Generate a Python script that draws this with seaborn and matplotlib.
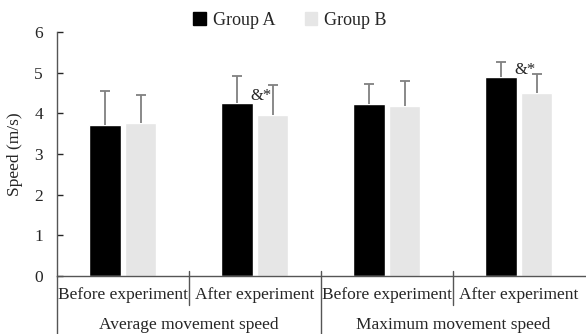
import pandas as pd
import seaborn as sns
import matplotlib.pyplot as plt

# --- data ---
phases = ["Before experiment", "After experiment", "Before experiment", "After experiment"]
metrics = ["Average movement speed", "Maximum movement speed"]
groups = ["Group A", "Group B"]
group_a_mean = [3.72, 4.26, 4.23, 4.90]
group_b_mean = [3.75, 3.97, 4.19, 4.50]
group_a_err = [0.82, 0.66, 0.50, 0.36]
group_b_err = [0.70, 0.73, 0.60, 0.47]
marks = ["", "&*", "", "&*"]

colors = {"Group A": "#000000", "Group B": "#e6e6e6"}

keys = [f"{i}" for i in range(len(phases))]
df = pd.DataFrame({
    "slot": keys * 2,
    "group": ["Group A"] * 4 + ["Group B"] * 4,
    "speed": group_a_mean + group_b_mean,
    "err": group_a_err + group_b_err,
})

sns.set_theme(style="white")
plt.rcParams["font.family"] = ["Liberation Serif", "DejaVu Serif"]

fig = plt.figure(figsize=(5.86, 3.34), dpi=100)
ax = fig.add_axes([0.097, 0.174, 0.901, 0.730])

sns.barplot(data=df, x="slot", y="speed", hue="group", order=keys,
            hue_order=groups, palette=colors, width=0.54, gap=0.12,
            errorbar=None, saturation=1, ax=ax, legend=False)

# one-sided grey error bars on top of each bar (upper cap only)
for cont, g in zip(ax.containers, groups):
    sub = df[df["group"] == g]
    xs = [p.get_x() + p.get_width() / 2 for p in cont.patches]
    eb = ax.errorbar(xs, sub["speed"], yerr=[[0] * len(xs), list(sub["err"])],
                     fmt="none", ecolor="#808080", elinewidth=1.3, capsize=3.5,
                     capthick=1.3)
    eb[1][0].set_visible(False)

# significance marks next to Group A bars
for p, m in zip(ax.containers[0].patches, marks):
    if m:
        ax.text(p.get_x() + p.get_width() - 0.02, p.get_height() - 0.02, m,
                fontsize=12, ha="left", va="bottom")

ax.set_ylim(0, 6)
ax.set_xlim(-0.5, 3.5)
ax.set_yticks(range(7))
ax.tick_params(axis="y", direction="in", length=4, width=1, labelsize=12.5,
               pad=10, left=True)
ax.set_xticks(range(4))
ax.set_xticklabels(phases, fontsize=12.5)
ax.tick_params(axis="x", length=0, pad=8)
ax.set_xlabel("")
ax.set_ylabel("Speed (m/s)", fontsize=12.5, labelpad=8)

for side in ["top", "right"]:
    ax.spines[side].set_visible(False)
for side in ["left", "bottom"]:
    ax.spines[side].set_color("#555555")
    ax.spines[side].set_linewidth(1)

# category separators below the axis
trans = ax.get_xaxis_transform()
for xb, y0 in [(-0.5, -0.24), (0.5, -0.12), (1.5, -0.24), (2.5, -0.12)]:
    ax.plot([xb, xb], [0.02 if xb != -0.5 else 0, y0], transform=trans,
            color="#555555", lw=1, clip_on=False)
for i, m in enumerate(metrics):
    ax.text(2 * i + 0.5, -0.2, m, transform=trans, ha="center", va="center",
            fontsize=12.5)

handles = [plt.Rectangle((0, 0), 1, 1, color=colors[g]) for g in groups]
fig.legend(handles, groups, loc="center", bbox_to_anchor=(0.495, 0.94),
           ncol=2, frameon=False, fontsize=13, handlelength=0.7,
           handleheight=0.7, columnspacing=1.6, handletextpad=0.4)

fig.savefig("out.png", dpi=100)
